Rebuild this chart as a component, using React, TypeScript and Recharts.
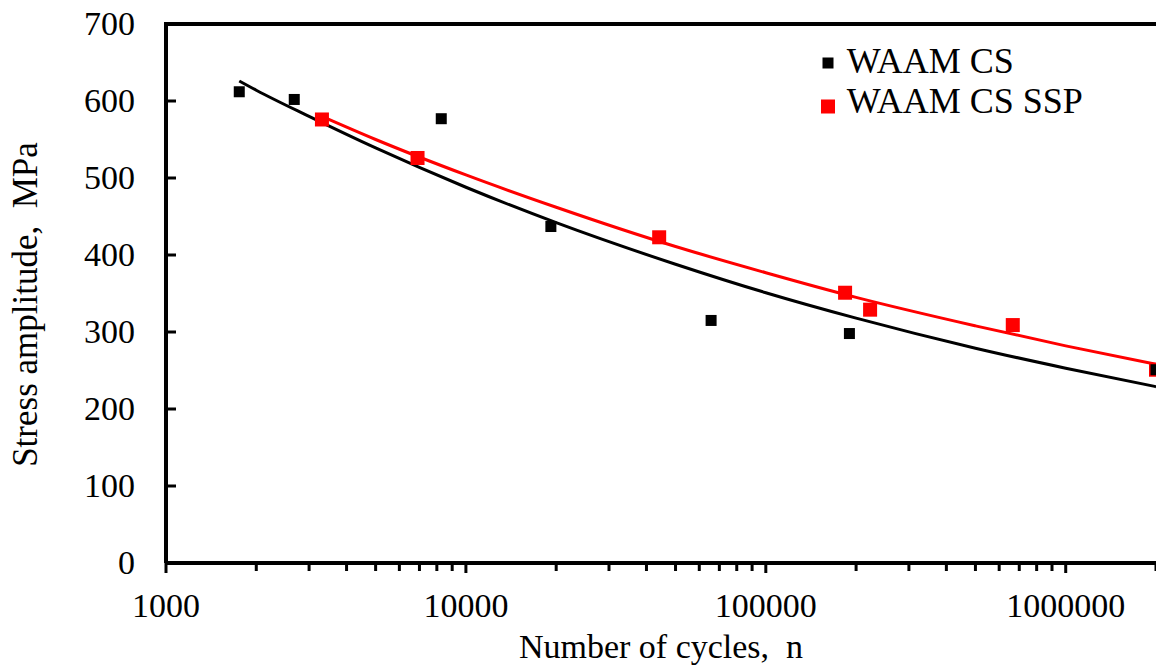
import React from "react";
import {
  ComposedChart,
  Scatter,
  Line,
  XAxis,
  YAxis,
  ReferenceLine,
  Legend
} from "recharts";

// Fatigue test results (cycles to failure vs stress amplitude)
const waamCycles = [1755, 2677, 8276, 19200, 65700, 190000, 2000000];
const waamStress = [612, 602, 577, 437, 315, 298, 251];
const sspCycles = [3311, 6898, 44100, 183800, 222700, 666000, 2000000];
const sspStress = [576, 526, 423, 351, 329, 309, 251];

// Power-law trend curves, sampled along the fitted lines
const waamFitCycles = [1755, 2000, 3000, 5000, 10000, 20000, 50000, 100000, 200000, 500000, 1000000, 2000000];
const waamFitStress = [626, 614, 580, 539, 488, 442, 388, 351, 318, 279, 253, 229];
const sspFitCycles = [3311, 5000, 10000, 20000, 50000, 100000, 200000, 500000, 1000000, 2000000];
const sspFitStress = [580, 550, 504, 462, 411, 377, 345, 308, 282, 258];

const seriesNames = ["WAAM CS", "WAAM CS SSP"];

const xMajorTicks = [1000, 10000, 100000, 1000000];
const xMinorTicks = [
  2000, 3000, 4000, 5000, 6000, 7000, 8000, 9000,
  20000, 30000, 40000, 50000, 60000, 70000, 80000, 90000,
  200000, 300000, 400000, 500000, 600000, 700000, 800000, 900000,
  2000000
];
const yTicks = [0, 100, 200, 300, 400, 500, 600, 700];

const FONT = '"Liberation Serif", "Times New Roman", serif';
const BLACK = "#000000";
const RED = "#ff0000";

const toPoints = (xs: number[], ys: number[]) =>
  xs.map((n, i) => ({ n, s: ys[i] }));

const waamData = toPoints(waamCycles, waamStress);
const sspData = toPoints(sspCycles, sspStress);
const waamFit = toPoints(waamFitCycles, waamFitStress);
const sspFit = toPoints(sspFitCycles, sspFitStress);

const allXTicks = [...xMajorTicks, ...xMinorTicks].sort((a, b) => a - b);

const squareShape = (side: number, fill: string) => (props: any) => {
  const { cx, cy } = props;
  if (cx == null || cy == null) return <g />;
  return (
    <rect x={cx - side / 2} y={cy - side / 2} width={side} height={side} fill={fill} />
  );
};

const XTick = (props: any) => {
  const { x, y, payload } = props;
  const major = xMajorTicks.includes(payload.value);
  return (
    <g>
      <line x1={x} y1={y} x2={x} y2={y + (major ? 10 : 8)} stroke={BLACK} strokeWidth={3} />
      {major && (
        <text x={x} y={y + 54} textAnchor="middle" fontSize={34} fontFamily={FONT} fill={BLACK}>
          {payload.value}
        </text>
      )}
    </g>
  );
};

const YTick = (props: any) => {
  const { x, y, payload } = props;
  return (
    <g>
      <line x1={x} y1={y} x2={x + 10} y2={y} stroke={BLACK} strokeWidth={3} />
      <text x={x - 31} y={y + 11} textAnchor="end" fontSize={34} fontFamily={FONT} fill={BLACK}>
        {payload.value}
      </text>
    </g>
  );
};

const YTitle = (props: any) => {
  const { viewBox } = props;
  const cx = 37;
  const cy = viewBox.y + viewBox.height / 2 + 11;
  return (
    <text
      x={cx}
      y={cy}
      transform={`rotate(-90 ${cx} ${cy})`}
      textAnchor="middle"
      fontSize={35}
      fontFamily={FONT}
      fill={BLACK}
      style={{ whiteSpace: "pre" }}
    >
      {"Stress amplitude,  MPa"}
    </text>
  );
};

const XTitle = (props: any) => {
  const { viewBox } = props;
  return (
    <text
      x={viewBox.x + viewBox.width / 2}
      y={658}
      textAnchor="middle"
      fontSize={34}
      fontFamily={FONT}
      fill={BLACK}
      style={{ whiteSpace: "pre" }}
    >
      {"Number of cycles,  n"}
    </text>
  );
};

const LegendBox = () => (
  <svg width={320} height={100} style={{ display: "block" }}>
    <rect x={12.5} y={27.5} width={11} height={11} fill={BLACK} />
    <text x={36.7} y={43.3} fontSize={36} fontFamily={FONT} fill={BLACK}>
      {seriesNames[0]}
    </text>
    <rect x={11} y={69.5} width={14} height={14} fill={RED} />
    <text x={36.7} y={83.3} fontSize={36} fontFamily={FONT} fill={BLACK}>
      {seriesNames[1]}
    </text>
  </svg>
);

export default function App() {
  return (
    <div style={{ position: "absolute", left: 0, top: 0, width: 1156, height: 666, overflow: "hidden", background: "#fff" }}>
      <ComposedChart width={1156} height={666} margin={{ top: 24, right: 0, bottom: 0, left: 0 }}>
        <XAxis
          dataKey="n"
          type="number"
          scale="log"
          domain={[1000, 2000000]}
          allowDataOverflow
          ticks={allXTicks}
          interval={0}
          height={103}
          tickSize={0}
          tickMargin={0}
          tickLine={false}
          tick={<XTick />}
          axisLine={{ stroke: BLACK, strokeWidth: 4 }}
          label={<XTitle />}
        />
        <YAxis
          type="number"
          domain={[0, 700]}
          ticks={yTicks}
          interval={0}
          width={166}
          tickSize={0}
          tickMargin={0}
          tickLine={false}
          tick={<YTick />}
          axisLine={{ stroke: BLACK, strokeWidth: 4 }}
          label={<YTitle />}
        />
        <ReferenceLine y={700} stroke={BLACK} strokeWidth={4} strokeLinecap="square" />
        <Legend
          layout="horizontal"
          verticalAlign="middle"
          align="center"
          content={<LegendBox />}
          wrapperStyle={{ left: 810, top: 30, width: 320, height: 100 }}
        />
        <Scatter
          name={seriesNames[1]}
          data={sspData}
          dataKey="s"
          shape={squareShape(14, RED)}
          isAnimationActive={false}
        />
        <Line
          data={sspFit}
          dataKey="s"
          type="monotone"
          stroke={RED}
          strokeWidth={3}
          dot={false}
          activeDot={false}
          legendType="none"
          isAnimationActive={false}
        />
        <Scatter
          name={seriesNames[0]}
          data={waamData}
          dataKey="s"
          shape={squareShape(11, BLACK)}
          isAnimationActive={false}
        />
        <Line
          data={waamFit}
          dataKey="s"
          type="monotone"
          stroke={BLACK}
          strokeWidth={3}
          dot={false}
          activeDot={false}
          legendType="none"
          isAnimationActive={false}
        />
      </ComposedChart>
    </div>
  );
}
